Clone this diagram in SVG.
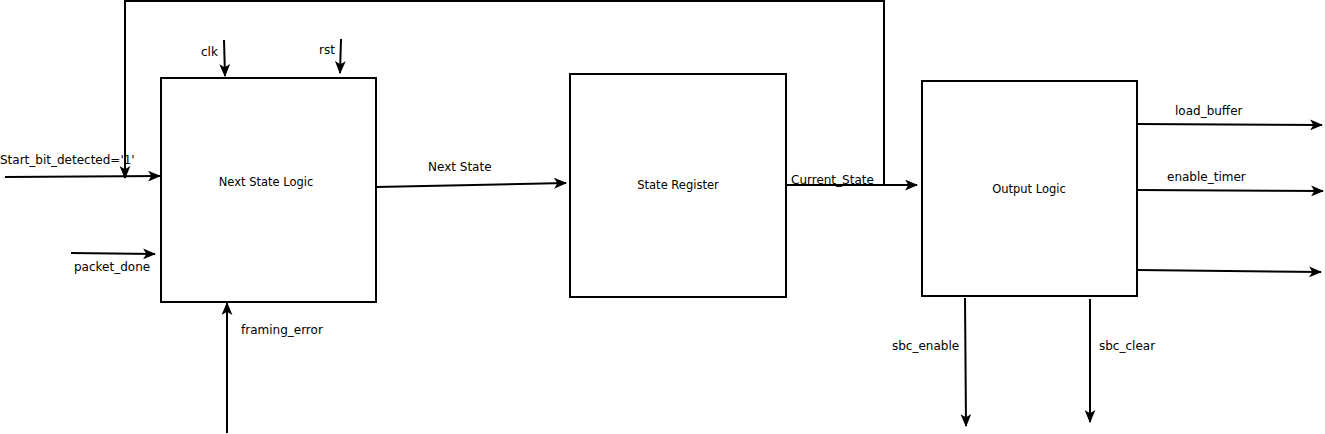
<svg xmlns="http://www.w3.org/2000/svg" width="1325" height="434" viewBox="0 0 1325 434">
<style>
.box{fill:#fff;stroke:#000;stroke-width:2}
.ln{fill:none;stroke:#000;stroke-width:2;marker-end:url(#ah)}
text{font-family:"DejaVu Sans",sans-serif;font-size:12px;fill:#000}
.c{text-anchor:middle;font-size:11.5px}
</style>
<defs>
<marker id="ah" viewBox="0 0 12 10" refX="11" refY="5" markerWidth="6.5" markerHeight="5.5" orient="auto" markerUnits="strokeWidth">
<path d="M0,0 L12,5 L0,10 L3,5 z" fill="#000"/>
</marker>
</defs>
<rect width="1325" height="434" fill="#fff"/>
<g id="connectors">
<path class="ln" d="M5,177 L160,176"/>
<path class="ln" d="M71,253 L155,254"/>
<path class="ln" d="M224,40 L225,76"/>
<path class="ln" d="M341,39 L340,73"/>
<path class="ln" d="M227,433 L227,303"/>
<path class="ln" d="M376,187 L566,183"/>
<path class="ln" d="M786,185 L917,185"/>
<path class="ln" d="M884,185 L884,1 L125,1 L125,178"/>
<path class="ln" d="M1137,124 L1322,125"/>
<path class="ln" d="M1137,190 L1323,191"/>
<path class="ln" d="M1137,270 L1321,272"/>
<path class="ln" d="M965,298 L966,426"/>
<path class="ln" d="M1090,299 L1090,422"/>
</g>
<g id="labels">
<text x="201" y="56">clk</text>
<text x="319" y="54">rst</text>
<text x="0" y="164">Start_bit_detected='1'</text>
<text x="74" y="271">packet_done</text>
<text x="428" y="171">Next State</text>
<text x="791" y="184">Current_State</text>
<text x="241" y="334">framing_error</text>
<text x="1175" y="115">load_buffer</text>
<text x="1167" y="181">enable_timer</text>
<text x="892" y="350">sbc_enable</text>
<text x="1099" y="350">sbc_clear</text>
</g>
<g id="next-state-logic">
<rect class="box" x="161" y="78" width="215" height="224"/>
<text class="c" x="266" y="186">Next State Logic</text>
</g>
<g id="state-register">
<rect class="box" x="570" y="74" width="216" height="223"/>
<text class="c" x="678" y="189">State Register</text>
</g>
<g id="output-logic">
<rect class="box" x="922" y="81" width="215" height="215"/>
<text class="c" x="1029" y="193">Output Logic</text>
</g>
</svg>
